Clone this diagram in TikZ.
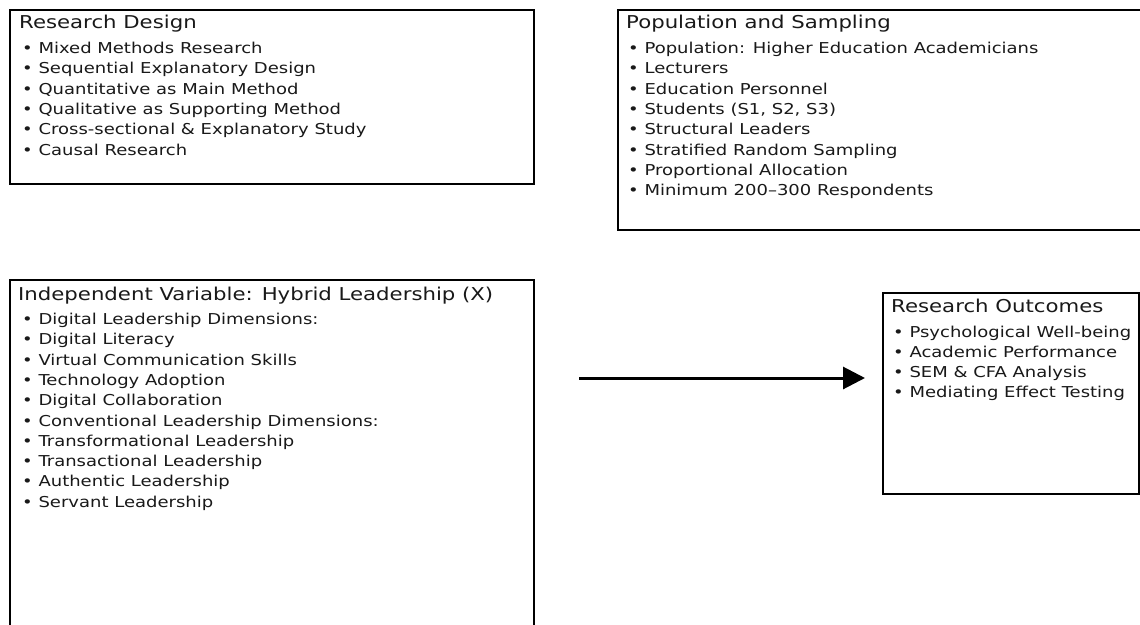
\documentclass[tikz,border=0pt]{standalone}
\usepackage{fontspec}
\setmainfont{DejaVu Sans}[FakeStretch=1.2]
\usetikzlibrary{arrows.meta}
\newcommand{\ttlfont}{\fontsize{17.7}{20}\selectfont}
\newcommand{\itmfont}{\fontsize{15}{20}\selectfont}
\tikzset{
  frame/.style={draw=black, line width=2pt, inner sep=0pt, anchor=north west},
  ttl/.style={font=\ttlfont, text=black!90, anchor=base west, inner sep=0pt},
  itm/.style={font=\itmfont, text=black!90, anchor=base west, inner sep=0pt},
  arrowline/.style={draw=black, line width=3pt, -{Triangle[length=22pt,width=22pt]}},
}
\begin{document}
\begin{tikzpicture}[x=1pt,y=1pt]
\useasboundingbox (0,0) rectangle (1140,-624);
\clip (0,0) rectangle (1140,-624);
\fill[white] (0,0) rectangle (1140,-624);
% frames
\node[frame, minimum width=524pt, minimum height=174pt] (design) at (9,-9) {};
\node[frame, minimum width=530pt, minimum height=220pt] (population) at (617,-9) {};
\node[frame, minimum width=524pt, minimum height=370pt] (independent) at (9,-279) {};
\node[frame, minimum width=256pt, minimum height=201pt] (outcomes) at (882,-292) {};
% Research Design
\node[ttl] (design-t) at (19,-28) {Research Design};
\foreach \t [count=\i from 0] in {Mixed Methods Research, Sequential Explanatory Design, Quantitative as Main Method, Qualitative as Supporting Method, Cross-sectional \& Explanatory Study, Causal Research}
  \node[itm] (design-\i) at (22,-53.5-20.3*\i) {• \t};
% Population and Sampling
\node[ttl] (population-t) at (626,-28) {Population and Sampling};
\foreach \t [count=\i from 0] in {Population: Higher Education Academicians, Lecturers, Education Personnel, {Students (S1, S2, S3)}, Structural Leaders, Stratified Random Sampling, Proportional Allocation, Minimum 200–300 Respondents}
  \node[itm] (population-\i) at (628,-53.5-20.3*\i) {• \t};
% Independent Variable
\node[ttl] (independent-t) at (18,-300) {Independent Variable: Hybrid Leadership (X)};
\foreach \t [count=\i from 0] in {Digital Leadership Dimensions:, Digital Literacy, Virtual Communication Skills, Technology Adoption, Digital Collaboration, Conventional Leadership Dimensions:, Transformational Leadership, Transactional Leadership, Authentic Leadership, Servant Leadership}
  \node[itm] (independent-\i) at (22,-324.5-20.3*\i) {• \t};
% Research Outcomes
\node[ttl] (outcomes-t) at (891,-312) {Research Outcomes};
\foreach \t [count=\i from 0] in {Psychological Well-being, Academic Performance, SEM \& CFA Analysis, Mediating Effect Testing}
  \node[itm] (outcomes-\i) at (893,-337-20.3*\i) {• \t};
% arrow
\coordinate (arrstart) at (579,-378);
\draw[arrowline, shorten >=17pt] (arrstart) -- (arrstart -| outcomes.west);
\end{tikzpicture}
\end{document}
